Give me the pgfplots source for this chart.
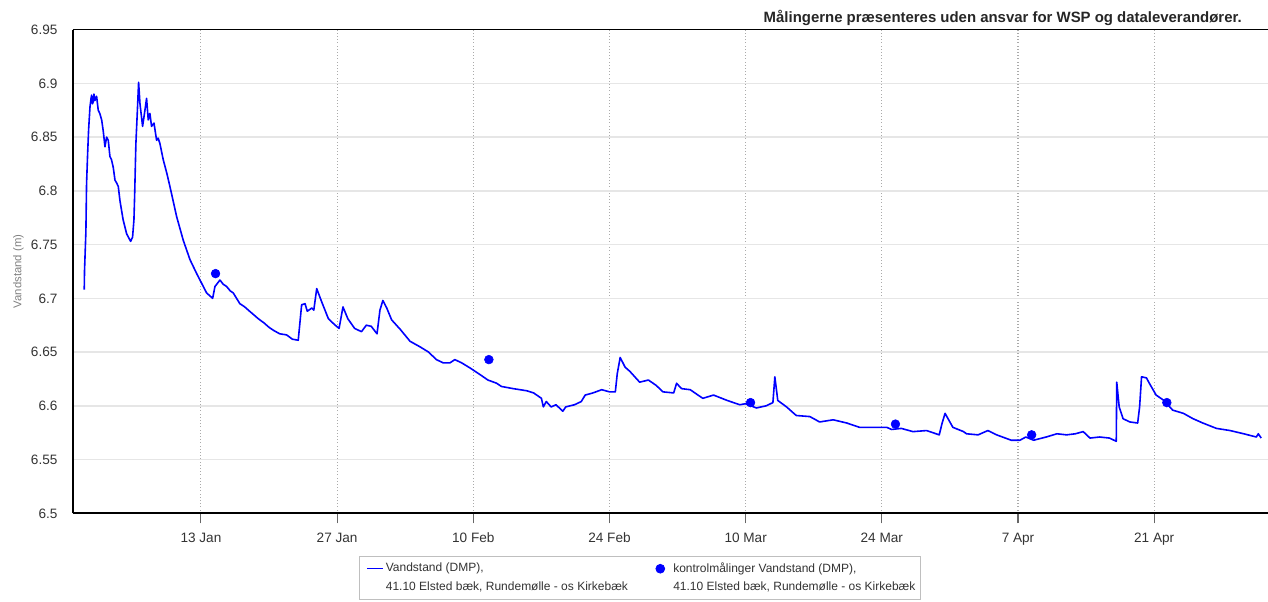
\documentclass[border=0pt]{standalone}
\usepackage{pgfplots}
\pgfplotsset{compat=1.18}
\usepackage{fontspec}
\setmainfont{Liberation Sans}
\definecolor{tickgray}{HTML}{333333}
\definecolor{gridgray}{HTML}{E6E6E6}
\definecolor{dotgray}{HTML}{AAAAAA}
\definecolor{lblgray}{HTML}{808080}
\definecolor{lineblue}{RGB}{0,0,255}
\pgfplotsset{
  mylineleg/.style={legend image code/.code={\path[draw=none,fill=none] (0pt,-3pt) rectangle (16pt,3pt); \draw[##1, overlay, line width=0.9pt] (4pt,6.8pt) -- (16pt,6.8pt);}},
  mymarkleg/.style={legend image code/.code={\path[draw=none,fill=none] (0pt,-3pt) rectangle (12pt,3pt); \draw[##1, overlay] plot coordinates {(4.25pt,6.8pt)};}},
}
\begin{document}
\begin{tikzpicture}[x=1pt,y=1pt]
\begin{axis}[
  scale only axis,
  width=896.5pt, height=362.8pt,
  xmin=-1.19, xmax=121.7,
  ymin=6.5, ymax=6.95,
  axis x line*=bottom, axis y line*=left,
  axis line style={black, line width=1.5pt},
  xtick={12,26,40,54,68,82,96,110},
  xticklabels={13 Jan,27 Jan,10 Feb,24 Feb,10 Mar,24 Mar,7 Apr,21 Apr},
  ytick={6.5,6.55,6.6,6.65,6.7,6.75,6.8,6.85,6.9,6.95},
  yticklabels={6.5,6.55,6.6,6.65,6.7,6.75,6.8,6.85,6.9,6.95},
  tick align=outside,
  major tick length=7.5pt,
  xtick style={draw=gray!80!black, line width=0.8pt},
  ytick style={draw=none},
  xmajorgrids, ymajorgrids,
  x grid style={dotgray, dotted, line width=0.8pt},
  y grid style={gridgray, line width=1.1pt},
  ticklabel style={font=\fontsize{10.2}{12}\selectfont, text=tickgray},
  yticklabel style={xshift=-0.4pt},
  xticklabel style={yshift=-3.6pt},
  ylabel={Vandstand (m)},
  ylabel style={font=\fontsize{8.5}{10}\selectfont, text=lblgray, at={(axis description cs:-0.037,0.5)}, anchor=south},
  legend columns=2,
  legend cell align=left,
  legend style={at={(axis description cs:0.4746,-0.179)}, anchor=south,
    draw=gray!50, line width=0.6pt, font=\fontsize{9}{13.8}\selectfont, text=tickgray,
    cells={align=left}, inner xsep=2pt, inner ysep=3pt,
    /tikz/every even column/.append style={column sep=18pt}},
  clip=false,
]
\addplot[color=lineblue, line width=1.2pt, line join=round, mylineleg] table {
0.00 6.708
0.03 6.726
0.17 6.762
0.24 6.807
0.35 6.835
0.45 6.857
0.59 6.878
0.70 6.886
0.76 6.889
0.85 6.881
0.93 6.883
1.00 6.890
1.10 6.884
1.27 6.888
1.44 6.875
1.60 6.872
1.79 6.866
1.95 6.856
2.13 6.841
2.30 6.850
2.47 6.847
2.64 6.832
2.80 6.829
2.98 6.822
3.16 6.810
3.35 6.807
3.50 6.804
3.67 6.791
4.00 6.773
4.36 6.760
4.77 6.753
4.97 6.757
5.11 6.773
5.18 6.795
5.31 6.844
5.45 6.872
5.59 6.901
5.73 6.881
6.00 6.860
6.24 6.875
6.41 6.886
6.58 6.866
6.75 6.872
6.92 6.860
7.17 6.863
7.44 6.847
7.60 6.849
7.78 6.844
8.12 6.829
8.50 6.816
8.81 6.804
9.50 6.776
10.18 6.754
10.87 6.736
11.56 6.723
12.07 6.714
12.58 6.705
13.20 6.700
13.44 6.711
13.95 6.717
14.30 6.713
14.64 6.711
15.00 6.707
15.32 6.705
16.00 6.695
16.50 6.692
17.00 6.688
17.90 6.681
18.5 6.677
19.0 6.673
19.5 6.670
20.1 6.667
20.8 6.666
21.4 6.662
22.0 6.661
22.35 6.694
22.7 6.695
22.93 6.688
23.4 6.691
23.6 6.689
23.9 6.709
24.4 6.697
25.1 6.681
25.8 6.675
26.2 6.672
26.6 6.692
27.1 6.681
27.8 6.672
28.5 6.669
29.0 6.675
29.5 6.674
30.1 6.667
30.4 6.689
30.7 6.698
31.1 6.691
31.6 6.680
32.5 6.671
33.5 6.660
34.5 6.655
35.4 6.650
36.2 6.643
36.9 6.640
37.6 6.640
38.1 6.643
38.8 6.640
39.7 6.635
40.7 6.629
41.5 6.624
42.4 6.621
42.9 6.618
44.1 6.616
45.5 6.614
46.2 6.612
47.0 6.607
47.2 6.599
47.5 6.604
48.0 6.599
48.5 6.601
49.2 6.595
49.5 6.599
50.4 6.601
51.1 6.604
51.5 6.610
52.3 6.612
53.2 6.615
54.0 6.613
54.6 6.613
54.8 6.630
55.1 6.645
55.6 6.636
56.1 6.632
56.4 6.629
57.1 6.622
58.0 6.624
58.8 6.619
59.5 6.613
60.6 6.612
60.9 6.621
61.4 6.616
62.3 6.615
63.1 6.610
63.6 6.607
64.7 6.610
66.1 6.605
67.4 6.601
68.0 6.602
69.1 6.598
70.1 6.600
70.8 6.603
71.0 6.627
71.3 6.605
72.2 6.599
73.2 6.591
74.6 6.590
75.6 6.585
77.0 6.587
78.4 6.584
79.7 6.580
81.1 6.580
82.5 6.580
83.0 6.578
84.0 6.579
85.2 6.576
86.6 6.577
87.9 6.573
88.2 6.584
88.5 6.593
89.3 6.580
90.4 6.576
90.7 6.574
91.9 6.573
92.9 6.577
93.8 6.573
95.3 6.568
96.2 6.568
96.8 6.571
97.6 6.568
98.9 6.571
100.0 6.574
101.0 6.573
101.9 6.574
102.7 6.576
103.4 6.570
104.4 6.571
105.4 6.570
106.1 6.567
106.15 6.622
106.4 6.599
106.8 6.588
107.5 6.585
108.3 6.584
108.5 6.599
108.7 6.627
109.2 6.626
109.5 6.621
110.2 6.610
111.0 6.605
111.9 6.596
113.0 6.593
114.0 6.588
115.0 6.584
116.4 6.579
117.8 6.577
119.2 6.574
120.5 6.571
120.7 6.574
121.0 6.570
};
\addlegendentry{Vandstand (DMP),\\41.10 Elsted bæk, Rundemølle - os Kirkebæk}
\addplot[only marks, mark=*, mark size=3.3pt, color=lineblue, mymarkleg] table {
13.5 6.723
41.6 6.643
68.5 6.603
83.4 6.583
97.4 6.573
111.3 6.603
};
\addlegendentry{kontrolmålinger Vandstand (DMP),\\41.10 Elsted bæk, Rundemølle - os Kirkebæk}
\draw[black, line width=1.2pt] (rel axis cs:0,1) -- (rel axis cs:1,1);
\coordinate (bl) at (rel axis cs:0,0);
\coordinate (tr) at (rel axis cs:1,1);
\node[anchor=base east, font=\bfseries\fontsize{11.2}{13}\selectfont, text=black!85, inner sep=0pt] at ([shift={(-19.5pt,5pt)}]tr) {Målingerne præsenteres uden ansvar for WSP og dataleverandører.};
\end{axis}
\pgfresetboundingbox
\path ([shift={(-54.5pt,-65.8pt)}]bl) rectangle ([shift={(0pt,22.2pt)}]tr);
\end{tikzpicture}
\end{document}
